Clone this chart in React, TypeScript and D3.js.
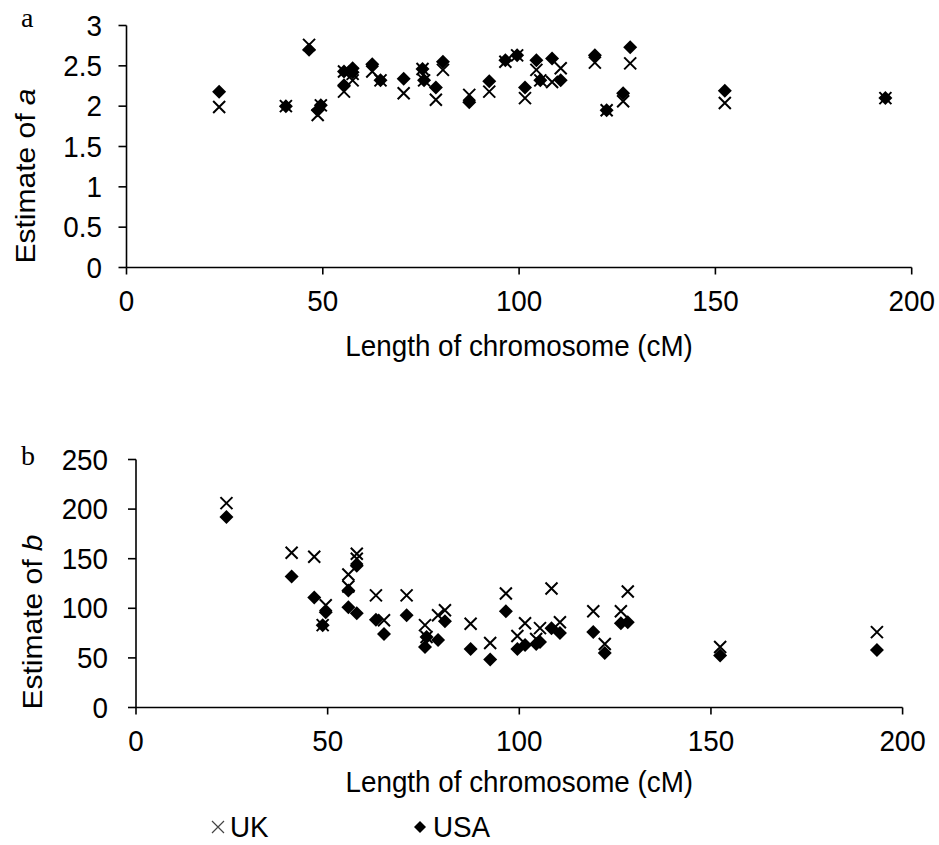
import React from "react";
import * as d3 from "d3";

// Chromosome lengths (cM), shared by both panels
const lengths = [23.6, 40.6, 46.5, 48.7, 49.5, 55.4, 55.4, 57.6, 57.6, 62.6, 64.7, 70.6, 75.4, 75.8, 78.8, 80.6, 87.3, 92.4, 96.5, 99.5, 101.5, 104.4, 105.4, 108.4, 110.6, 119.3, 122.3, 126.5, 128.3, 152.4, 193.3];
// Panel a: estimate of a
const aUK = [1.99, 2.0, 2.76, 1.89, 2.01, 2.43, 2.18, 2.32, 2.4, 2.43, 2.32, 2.16, 2.46, 2.32, 2.08, 2.45, 2.14, 2.18, 2.55, 2.63, 2.1, 2.45, 2.32, 2.3, 2.47, 2.54, 1.95, 2.06, 2.53, 2.04, 2.1];
const aUSA = [2.18, 2.0, 2.7, 1.95, 2.01, 2.43, 2.26, 2.47, 2.42, 2.52, 2.32, 2.34, 2.46, 2.32, 2.23, 2.55, 2.05, 2.31, 2.57, 2.63, 2.23, 2.57, 2.32, 2.59, 2.32, 2.63, 1.95, 2.16, 2.73, 2.19, 2.1];
// Panel b: estimate of b
const bUK = [206, 156, 152, 83, 103, 134, 122, 155, 150, 113, 88, 113, 83, 71, 93, 98, 84.5, 65, 115, 72, 85, 69, 80, 120, 86, 97, 64, 97, 117, 61, 76];
const bUSA = [192, 132, 111, 83, 96, 118, 101, 143, 95, 88.5, 74, 93, 61, 71, 68, 87, 59, 48.5, 97, 59, 63, 64, 66, 80, 75, 76, 55, 85, 86, 52.5, 58];

const xTicks = [0, 50, 100, 150, 200];
const aTicks = [0, 0.5, 1, 1.5, 2, 2.5, 3];
const aTickLabels = ["0", "0.5", "1", "1.5", "2", "2.5", "3"];
const bTicks = [0, 50, 100, 150, 200, 250];
const seriesNames = ["UK", "USA"];

const FONT = "'Liberation Sans', Arial, sans-serif";
const FS = 27.8;
const SY = 1.08;

function T({ x, y, anchor = "start", children, rotate = false, size = FS, family = FONT }: any) {
  const tr = rotate
    ? `translate(${x},${y}) rotate(-90) scale(${SY},1)`
    : `translate(${x},${y}) scale(1,${SY})`;
  return (
    <text transform={tr} textAnchor={anchor} fontFamily={family} fontSize={size} fill="#000">
      {children}
    </text>
  );
}

function Cross({ x, y, r = 6, sw = 2, color = "#000" }: any) {
  return (
    <path d={`M${x - r},${y - r}L${x + r},${y + r}M${x - r},${y + r}L${x + r},${y - r}`} stroke={color} strokeWidth={sw} fill="none" />
  );
}
function Diamond({ x, y, r = 7 }: any) {
  return <path d={`M${x},${y - r}L${x + r},${y}L${x},${y + r}L${x - r},${y}Z`} fill="#000" />;
}

function Panel({ letter, italic, xs, ys, yTicks, yLabels, uk, usa, labelEnd, titleX, titleY, xLabelY, xTitleY, letterY }: any) {
  const [x0, x1] = xs.range();
  const [y0, y1] = ys.range();
  return (
    <g>
      <line x1={x0} x2={x0} y1={y1} y2={y0} stroke="#000" strokeWidth={1.6} />
      <line x1={x0} x2={x1} y1={y0} y2={y0} stroke="#000" strokeWidth={1.6} />
      {yTicks.map((t: number, i: number) => (
        <g key={"y" + i}>
          <line x1={x0 - 8} x2={x0} y1={ys(t)} y2={ys(t)} stroke="#000" strokeWidth={1.6} />
          <T x={labelEnd} y={ys(t) + 10} anchor="end">{yLabels[i]}</T>
        </g>
      ))}
      {xTicks.map((t: number) => (
        <g key={"x" + t}>
          <line x1={xs(t)} x2={xs(t)} y1={y0} y2={y0 + 7} stroke="#000" strokeWidth={1.6} />
          <T x={xs(t)} y={xLabelY} anchor="middle">{String(t)}</T>
        </g>
      ))}
      <T x={(x0 + x1) / 2} y={xTitleY} anchor="middle">Length of chromosome (cM)</T>
      <T x={titleX} y={titleY} anchor="middle" rotate>
        Estimate of <tspan fontStyle="italic">{italic}</tspan>
      </T>
      <text x={21} y={letterY} fontFamily="'Liberation Serif', 'Times New Roman', serif" fontSize={28}>{letter}</text>
      {lengths.map((L: number, i: number) => (
        <Cross key={"u" + i} x={xs(L)} y={ys(uk[i])} />
      ))}
      {lengths.map((L: number, i: number) => (
        <Diamond key={"s" + i} x={xs(L)} y={ys(usa[i])} />
      ))}
    </g>
  );
}

export default function App() {
  const xa = d3.scaleLinear().domain([0, 200]).range([126.5, 911.7]);
  const ya = d3.scaleLinear().domain([0, 3]).range([267.5, 25.5]);
  const xb = d3.scaleLinear().domain([0, 200]).range([136, 902.6]);
  const yb = d3.scaleLinear().domain([0, 250]).range([707.5, 459.5]);
  return (
    <svg width={939} height={845} style={{ position: "absolute", left: 0, top: 0, background: "#fff" }}>
      <rect width={939} height={845} fill="#fff" />
      <Panel letter="a" italic="a" xs={xa} ys={ya} yTicks={aTicks} yLabels={aTickLabels}
        uk={aUK} usa={aUSA} labelEnd={102} titleX={35} titleY={176} xLabelY={311} xTitleY={356} letterY={27} />
      <Panel letter="b" italic="b" xs={xb} ys={yb} yTicks={bTicks} yLabels={bTicks.map(String)}
        uk={bUK} usa={bUSA} labelEnd={108} titleX={42} titleY={622} xLabelY={751} xTitleY={792} letterY={465} />
      <Cross x={218} y={827} r={6} sw={1.2} color="#444" />
      <T x={230} y={837}>{seriesNames[0]}</T>
      <Diamond x={420} y={827} r={6} />
      <T x={433} y={837}>{seriesNames[1]}</T>
    </svg>
  );
}
